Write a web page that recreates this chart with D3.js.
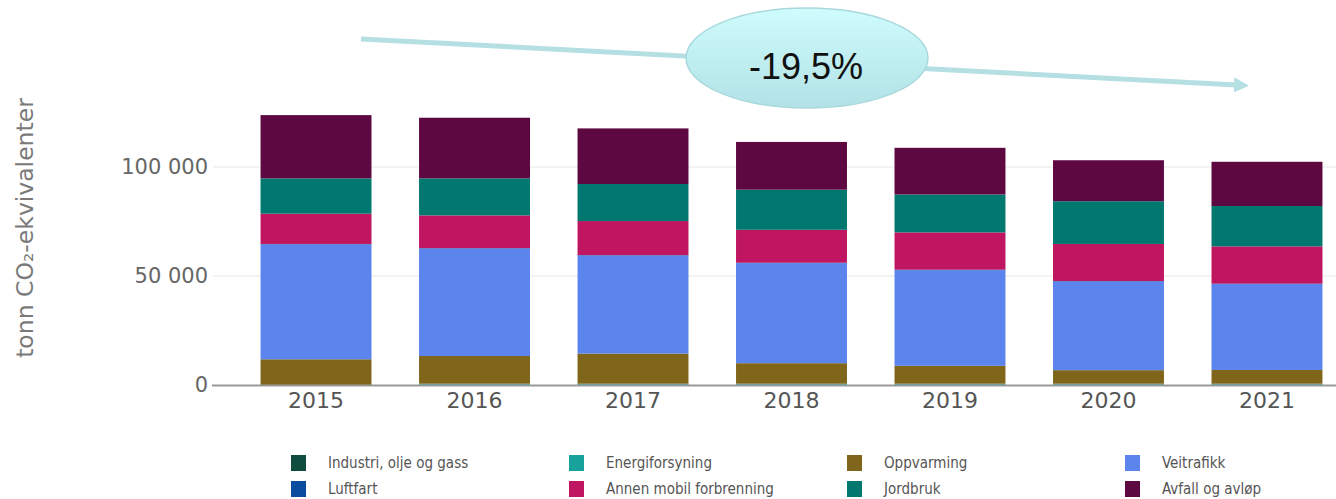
<!DOCTYPE html>
<html>
<head>
<meta charset="utf-8">
<script src="https://cdn.jsdelivr.net/npm/d3@7"></script>
<style>
  html, body { margin: 0; padding: 0; background: #fff; overflow: hidden; }
</style>
</head>
<body>
<div id="chart"></div>
<script>
// data (tonn CO2-ekvivalenter)
var years = ["2015", "2016", "2017", "2018", "2019", "2020", "2021"];
var industri = [0, 100, 100, 100, 100, 100, 100];
var energiforsyning = [0, 500, 500, 500, 500, 500, 500];
var oppvarming = [11800, 12700, 13800, 9400, 8200, 6200, 6300];
var veitrafikk = [52700, 49300, 45000, 45900, 43900, 40700, 39400];
var luftfart = [200, 200, 200, 200, 200, 200, 200];
var annenMobil = [13900, 15000, 15600, 15100, 17100, 17000, 17100];
var jordbruk = [16200, 17000, 17000, 18400, 17400, 19600, 18500];
var avfall = [29000, 27800, 25500, 21900, 21400, 18800, 20300];

var seriesNames = ["Industri, olje og gass", "Energiforsyning", "Oppvarming", "Veitrafikk",
    "Luftfart", "Annen mobil forbrenning", "Jordbruk", "Avfall og avløp"];
var seriesValues = [industri, energiforsyning, oppvarming, veitrafikk, luftfart, annenMobil, jordbruk, avfall];
var seriesColors = ["#0e4d3f", "#17a39b", "#80661a", "#5b84ec", "#0b4c9f", "#c01561", "#00786f", "#5e0842"];
var yTicks = [0, 50000, 100000];
var annotationText = "-19,5%";

// rows for the stack layout
var rows = years.map(function (yr, i) {
    var obj = { Year: yr };
    seriesNames.forEach(function (name, k) { obj[name] = seriesValues[k][i]; });
    return obj;
});

var w = 1336, h = 499;
var svg = d3.select("#chart").append("svg")
    .attr("width", w)
    .attr("height", h)
    .style("font-family", "'DejaVu Sans', Verdana, sans-serif");

// --- Scales ---
var xScale = d3.scaleBand()
    .domain(years)
    .range([213, 1370])
    .paddingInner(0.3)
    .paddingOuter(0.3);

var yScale = d3.scaleLinear()
    .domain([0, 100000])
    .range([385, 167]);

var colorScale = d3.scaleOrdinal().domain(seriesNames).range(seriesColors);

var locale = d3.formatLocale({ decimal: ",", thousands: " ", grouping: [3], currency: ["", " kr"] });
var fmt = locale.format(",d");

// --- Grid lines ---
svg.append("g")
    .selectAll("line")
    .data(yTicks.filter(d => d > 0))
    .enter().append("line")
    .attr("x1", 213).attr("x2", w)
    .attr("y1", d => yScale(d)).attr("y2", d => yScale(d))
    .attr("stroke", "#efefef")
    .attr("stroke-width", 1.5);

// --- Y axis labels ---
var yAxis = svg.append("g")
    .attr("transform", "translate(212,0)")
    .call(d3.axisLeft(yScale).tickValues(yTicks).tickSize(0).tickPadding(4).tickFormat(fmt));
yAxis.select(".domain").remove();
yAxis.selectAll("text")
    .attr("fill", "#666")
    .style("font-size", "21px")
    .style("font-family", "'DejaVu Sans', Verdana, sans-serif");

// y axis title
svg.append("text")
    .attr("transform", "translate(33,228) rotate(-90)")
    .attr("text-anchor", "middle")
    .attr("fill", "#7a7a7a")
    .style("font-size", "23.5px")
    .text("tonn CO₂-ekvivalenter");

// --- Bars ---
var stackedData = d3.stack().keys(seriesNames)(rows);

svg.append("g")
    .selectAll("g")
    .data(stackedData)
    .enter().append("g")
    .attr("fill", d => colorScale(d.key))
    .selectAll("rect")
    .data(d => d)
    .enter().append("rect")
    .attr("x", d => xScale(d.data.Year))
    .attr("y", d => yScale(d[1]))
    .attr("height", d => yScale(d[0]) - yScale(d[1]))
    .attr("width", xScale.bandwidth());

// --- X axis ---
var xAxis = svg.append("g")
    .attr("transform", "translate(0,385)")
    .call(d3.axisBottom(xScale).tickSize(0).tickPadding(7));
xAxis.select(".domain").remove();
xAxis.selectAll("text")
    .attr("fill", "#555")
    .style("font-size", "22px")
    .style("font-family", "'DejaVu Sans', Verdana, sans-serif");

svg.append("line")
    .attr("x1", 212).attr("x2", w)
    .attr("y1", 385.5).attr("y2", 385.5)
    .attr("stroke", "#999")
    .attr("stroke-width", 2);

// --- Legend ---
var legend = svg.append("g")
    .selectAll("g")
    .data(seriesNames)
    .enter().append("g")
    .attr("transform", (d, i) => `translate(${291 + (i % 4) * 278},${455 + Math.floor(i / 4) * 26})`);

legend.append("rect")
    .attr("width", 15)
    .attr("height", 16)
    .attr("fill", colorScale);

legend.append("text")
    .attr("x", 37)
    .attr("y", 8)
    .attr("dy", "0.35em")
    .attr("fill", "#555")
    .style("font-size", "15px")
    .style("font-family", "'DejaVu Sans Condensed', 'DejaVu Sans', sans-serif")
    .text(d => d);

// --- Annotation: trend arrow and ellipse ---
var defs = svg.append("defs");
defs.append("marker")
    .attr("id", "arrowhead")
    .attr("viewBox", "0 0 10 10")
    .attr("refX", 2).attr("refY", 5)
    .attr("markerWidth", 3).attr("markerHeight", 3)
    .attr("orient", "auto")
    .append("path")
    .attr("d", "M0,0 L10,5 L0,10 z")
    .attr("fill", "#b6dfe3");

var grad = defs.append("linearGradient")
    .attr("id", "ellGrad")
    .attr("x1", 0).attr("y1", 0).attr("x2", 0).attr("y2", 1);
grad.append("stop").attr("offset", "0%").attr("stop-color", "#cffcfd");
grad.append("stop").attr("offset", "100%").attr("stop-color", "#b2e2e6");

svg.append("line")
    .attr("x1", 361).attr("y1", 39)
    .attr("x2", 1237).attr("y2", 85)
    .attr("stroke", "#b6dfe3")
    .attr("stroke-width", 5)
    .attr("marker-end", "url(#arrowhead)");

svg.append("ellipse")
    .attr("cx", 807).attr("cy", 58)
    .attr("rx", 121).attr("ry", 50)
    .attr("fill", "url(#ellGrad)")
    .attr("stroke", "#a9d8dc")
    .attr("stroke-width", 1.5);

svg.append("text")
    .attr("x", 806).attr("y", 66)
    .attr("text-anchor", "middle")
    .attr("dy", "0.35em")
    .attr("fill", "#111")
    .style("font-size", "36px")
    .style("font-family", "'Liberation Sans', Arial, sans-serif")
    .text(annotationText);
</script>
</body>
</html>
